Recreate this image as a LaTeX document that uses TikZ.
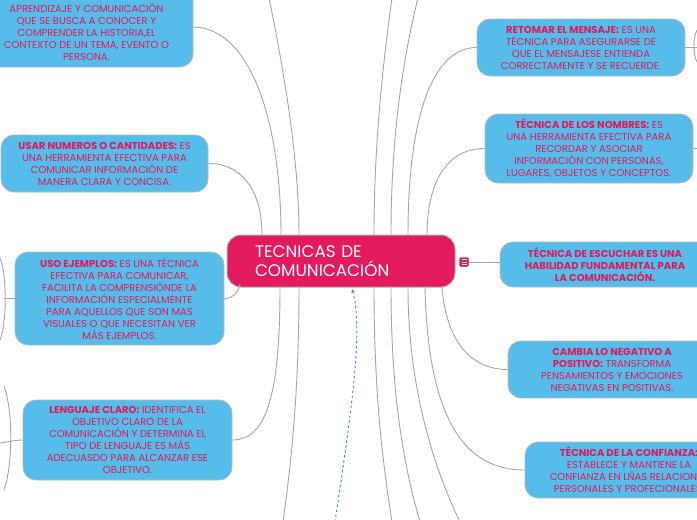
\documentclass[tikz,border=0pt]{standalone}
\usepackage{fontspec}
\setmainfont{Poppins}
\usetikzlibrary{arrows.meta}
\definecolor{boxblue}{HTML}{56BDEA}
\definecolor{pinktxt}{HTML}{E0195C}
\definecolor{centerpink}{HTML}{E31A5E}
\definecolor{linegray}{HTML}{A6A6A6}
\definecolor{arrowblue}{HTML}{2D86E6}
\tikzset{
  topic/.style={draw=linegray!80, line width=0.8pt, fill=boxblue, rounded corners=13pt,
    align=center, text=pinktxt, inner sep=0pt,
    font=\fontsize{10}{12}\selectfont},
  central/.style={draw=linegray!90, line width=1pt, fill=centerpink, rounded corners=14pt,
    align=left, text=white, inner sep=0pt, font=\fontsize{16.8}{19.5}\selectfont},
  conn/.style={draw=linegray, line width=0.9pt},
  relarrow/.style={draw=arrowblue, line width=0.9pt, dash pattern=on 2.5pt off 2.5pt,
    -{Stealth[length=4pt,width=3.5pt]}}
}
\begin{document}
\begin{tikzpicture}[x=1pt,y=-1pt]
\useasboundingbox (0,0) rectangle (697,520);
\fill[white] (0,0) rectangle (697,520);

% central node
\node[central, minimum width=228, minimum height=52, text width=172] (c) at (341,261)
  {TECNICAS DE\\COMUNICACIÓN};
\node[fill=centerpink, draw=centerpink!80!black, rounded corners=1.5pt, minimum size=9pt, inner sep=0pt] (icon) at (464,262) {};
\draw[white, line width=0.6pt] (461.5,259.5) -- (466.5,259.5) (461.5,262) -- (466.5,262) (461.5,264.5) -- (466.5,264.5);

% attachment coordinates on central node
\coordinate (ct1) at (262,235);
\coordinate (ct2) at (281,235);
\coordinate (ct3) at (299,235);
\coordinate (ct4) at (374,235);
\coordinate (ct5) at (391,235);
\coordinate (ct6) at (408,235);
\coordinate (ct7) at (427,235);
\coordinate (cb0) at (240,284);
\coordinate (cb1) at (280,287);
\coordinate (cb2) at (299,287);
\coordinate (cb3) at (374,287);
\coordinate (cb4) at (391,287);
\coordinate (cb5) at (408,287);
\coordinate (cb6) at (425,287);
\coordinate (cb7) at (442,287);
% off-canvas ends
\coordinate (o1) at (269,-2);
\coordinate (o2) at (392,-2);
\coordinate (o3) at (418,-2);
\coordinate (o4) at (283,522);
\coordinate (o5) at (392,522);
\coordinate (o6) at (420,522);
\coordinate (o7) at (460,522);
\coordinate (arrs) at (335,522);
\coordinate (arre) at (352,289);

% topic boxes
\node[topic, minimum width=213, minimum height=80] (b1) at (86.5,27)
  {\textbf{CONCEPTO HISTORIA:} ES EL\\APRENDIZAJE Y COMUNICACIÓN\\QUE SE BUSCA A CONOCER Y\\COMPRENDER LA HISTORIA,EL\\CONTEXTO DE UN TEMA, EVENTO O\\PERSONA.};
\node[topic, minimum width=207, minimum height=57] (b2) at (104.5,163.5)
  {\textbf{USAR NUMEROS O CANTIDADES:} ES\\UNA HERRAMIENTA EFECTIVA PARA\\COMUNICAR INFORMACIÓN DE\\MANERA CLARA Y CONCISA.};
\node[topic, minimum width=209, minimum height=93] (b3) at (119.5,298.5)
  {\textbf{USO EJEMPLOS:} ES UNA TÉCNICA\\EFECTIVA PARA COMUNICAR,\\FACILITA LA COMPRENSIÓNDE LA\\INFORMACIÓN ESPECIALMENTE\\PARA AQUELLOS QUE SON MAS\\VISUALES O QUE NECESITAN VER\\MÁS EJEMPLOS.};
\node[topic, minimum width=209, minimum height=80] (b4) at (127.5,440)
  {\textbf{LENGUAJE CLARO:} IDENTIFICA EL\\OBJETIVO CLARO DE LA\\COMUNICACIÓN Y DETERMINA EL\\TIPO DE LENGUAJE ES MÁS\\ADECUASDO PARA ALCANZAR ESE\\OBJETIVO.};
\node[topic, minimum width=208, minimum height=57] (b5) at (581,47.5)
  {\textbf{RETOMAR EL MENSAJE:} ES UNA\\TÉCNICA PARA ASEGURARSE DE\\QUE EL MENSAJESE ENTIENDA\\CORRECTAMENTE Y SE RECUERDE.};
\node[topic, minimum width=208, minimum height=69] (b6) at (589,148.5)
  {\textbf{TÉCNICA DE LOS NOMBRES:} ES\\UNA HERRAMIENTA EFECTIVA PARA\\RECORDAR Y ASOCIAR\\INFORMACIÓN CON PERSONAS,\\LUGARES, OBJETOS Y CONCEPTOS.};
\node[topic, minimum width=210, minimum height=45] (b7) at (605,264.5)
  {\textbf{TÉCNICA DE ESCUCHAR ES UNA}\\\textbf{HABILIDAD FUNDAMENTAL PARA}\\\textbf{LA COMUNICACIÓN.}};
\node[topic, minimum width=208, minimum height=57] (b8) at (612,369.5)
  {\textbf{CAMBIA LO NEGATIVO A}\\\textbf{POSITIVO:} TRANSFORMA\\PENSAMIENTOS Y EMOCIONES\\NEGATIVAS EN POSITIVAS.};
\node[topic, minimum width=208, minimum height=56] (b9) at (629,470)
  {\textbf{TÉCNICA DE LA CONFIANZA:}\\ESTABLECE Y MANTIENE LA\\CONFIANZA EN LÑAS RELACIONES\\PERSONALES Y PROFECIONALES.};

% connectors above central node
\draw[conn] (b2.east) .. controls (245,163.5) and (262,195) .. (ct1);
\draw[conn] (b1.east) .. controls (250,28) and (281,120) .. (ct2);
\draw[conn] (o1) .. controls (288,90) and (299,170) .. (ct3);
\draw[conn] (o2) .. controls (382,70) and (374,150) .. (ct4);
\draw[conn] (o3) .. controls (400,70) and (391,150) .. (ct5);
\draw[conn] (b5.west) .. controls (435,47.5) and (408,110) .. (ct6);
\draw[conn] (b6.west) .. controls (445,148.5) and (427,185) .. (ct7);
% connectors below central node
\draw[conn] (b3.east) .. controls (233,298.5) and (238,293) .. (cb0);
\draw[conn] (cb1) .. controls (280,400) and (265,440) .. (b4.east);
\draw[conn] (cb2) .. controls (299,400) and (290,470) .. (o4);
\draw[conn] (cb3) .. controls (374,400) and (384,470) .. (o5);
\draw[conn] (cb4) .. controls (391,400) and (405,470) .. (o6);
\draw[conn] (cb5) .. controls (408,390) and (435,470) .. (o7);
\draw[conn] (cb6) .. controls (428,420) and (465,470) .. (b9.west);
\draw[conn] (cb7) .. controls (446,340) and (470,369.5) .. (b8.west);
\draw[conn] (icon.east) -- (icon.east -| b7.west);
% stubs at the edges
\draw[conn] (b3.west) -- (4,298.5);
\draw[conn] (0,258) .. controls (7,275) and (7,322) .. (0,340);
\draw[conn] (b4.west) .. controls (15,440) and (8,442) .. (0,443);
\draw[conn] (4,386) .. controls (13,410) and (13,465) .. (4,490);
\draw[conn] (b5.east) -- (697,47.5);
\draw[conn] (697,30) .. controls (693,38) and (693,55) .. (697,62);
\draw[conn] (b6.east) -- (697,148.5);

% relationship arrow
\draw[relarrow] (arrs) .. controls (350,420) and (364,330) .. (arre);
\end{tikzpicture}
\end{document}
